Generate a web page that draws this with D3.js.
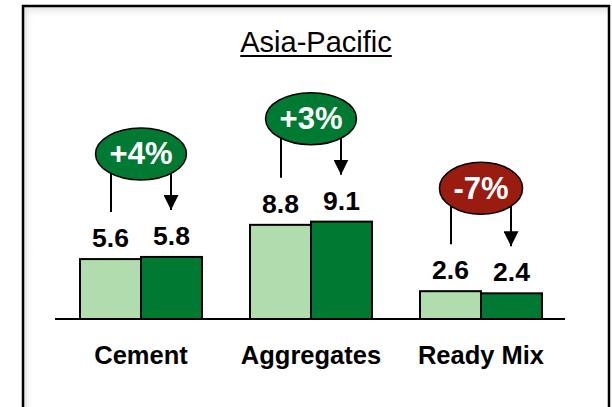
<!DOCTYPE html>
<html><head><meta charset="utf-8">
<script src="https://cdn.jsdelivr.net/npm/d3@7"></script>
<style>html,body{margin:0;padding:0;background:#fff;}svg{display:block;font-family:Arial,"Liberation Sans",sans-serif;}</style>
</head><body>
<svg id="c" width="612" height="407"></svg>
<script>
const title = "Asia-Pacific";
const categories = ["Cement", "Aggregates", "Ready Mix"];
const priorValues = [5.6, 8.8, 2.6];
const currentValues = [5.8, 9.1, 2.4];
const changeLabels = ["+4%", "+3%", "-7%"];

const svg = d3.select("#c");
const W = 612, H = 407;
const defs = svg.append("defs");
const gl = defs.append("linearGradient").attr("id","gl").attr("x1","0").attr("x2","1").attr("y1","0").attr("y2","0");
gl.append("stop").attr("offset","0").attr("stop-color","#dcdcdc");
gl.append("stop").attr("offset","1").attr("stop-color","#ffffff").attr("stop-opacity",0);
const gt = defs.append("linearGradient").attr("id","gt").attr("x1","0").attr("x2","0").attr("y1","0").attr("y2","1");
gt.append("stop").attr("offset","0").attr("stop-color","#e2e2e2");
gt.append("stop").attr("offset","1").attr("stop-color","#ffffff").attr("stop-opacity",0);
defs.append("marker").attr("id","arr").attr("viewBox","0 0 10 10").attr("refX",10).attr("refY",5)
  .attr("markerUnits","userSpaceOnUse").attr("markerWidth",15).attr("markerHeight",15).attr("orient","auto")
  .append("path").attr("d","M0,0 L10,5 L0,10 Z").attr("fill","#000");

// frame with inner shadow
svg.append("rect").attr("x",23).attr("y",7).attr("width",586).attr("height",12).attr("fill","url(#gt)");
svg.append("rect").attr("x",23).attr("y",7).attr("width",12).attr("height",H).attr("fill","url(#gl)");
svg.append("path").attr("d",`M23,${H+5} L23,6 L609,6 L609,${H+5}`).attr("fill","none").attr("stroke","#000").attr("stroke-width",2.5);

// title
const t = svg.append("text").attr("x",316).attr("y",52).attr("text-anchor","middle")
  .attr("font-size",29).attr("fill","#000").text(title);
const tw = t.node().getComputedTextLength();
svg.append("line").attr("x1",316-tw/2).attr("x2",316+tw/2).attr("y1",56).attr("y2",56)
  .attr("stroke","#000").attr("stroke-width",1.8);

const x = d3.scaleBand().domain(categories).range([56,566]).paddingInner(0).paddingOuter(0);
const y = d3.scaleLinear().domain([0,10]).range([319,212]);
const barW = 61;
const light = "#b1dcae", dark = "#007a33", red = "#9a1b10";

const g = svg.append("g");
categories.forEach((c,i) => {
  const cx = x(c) + x.bandwidth()/2;
  const p = priorValues[i], q = currentValues[i];
  g.append("rect").attr("x",cx-barW).attr("y",y(p)).attr("width",barW).attr("height",y(0)-y(p))
    .attr("fill",light).attr("stroke","#000").attr("stroke-width",2);
  g.append("rect").attr("x",cx).attr("y",y(q)).attr("width",barW).attr("height",y(0)-y(q))
    .attr("fill",dark).attr("stroke","#000").attr("stroke-width",2);
  g.append("text").attr("x",cx-barW/2).attr("y",y(p)-12).attr("text-anchor","middle")
    .attr("font-size",26.5).attr("font-weight","bold").attr("fill","#000").text(d3.format(".1f")(p));
  g.append("text").attr("x",cx+barW/2).attr("y",y(q)-12).attr("text-anchor","middle")
    .attr("font-size",26.5).attr("font-weight","bold").attr("fill","#000").text(d3.format(".1f")(q));
  g.append("text").attr("x",cx).attr("y",364).attr("text-anchor","middle")
    .attr("font-size",25.5).attr("font-weight","bold").attr("fill","#000").text(c);

  // bubble
  const cy = Math.min(y(p), y(q)) - 103;
  const lab = changeLabels[i];
  const col = lab.startsWith("-") ? red : dark;
  const tmp = g.append("text").attr("font-size",31).attr("font-weight","bold").text(lab);
  const w = tmp.node().getComputedTextLength(); tmp.remove();
  const rx = w/2 + 14, ry = 26;
  const lx = cx - 30, rxp = cx + 30;
  const dy = ry*Math.sqrt(Math.max(0,1-Math.pow(30/rx,2)));
  g.append("line").attr("x1",lx).attr("x2",lx).attr("y1",cy+dy-1).attr("y2",y(p)-47)
    .attr("stroke","#000").attr("stroke-width",2);
  g.append("line").attr("x1",rxp).attr("x2",rxp).attr("y1",cy+dy-1).attr("y2",y(q)-47)
    .attr("stroke","#000").attr("stroke-width",2).attr("marker-end","url(#arr)");
  g.append("ellipse").attr("cx",cx).attr("cy",cy).attr("rx",rx).attr("ry",ry)
    .attr("fill",col).attr("stroke","#000").attr("stroke-width",1.5);
  g.append("text").attr("x",cx).attr("y",cy+10.5).attr("text-anchor","middle")
    .attr("font-size",31).attr("font-weight","bold").attr("fill","#fff").text(lab);
});
// baseline
svg.append("line").attr("x1",55).attr("x2",565).attr("y1",y(0)).attr("y2",y(0)).attr("stroke","#000").attr("stroke-width",2);
</script>
</body></html>
